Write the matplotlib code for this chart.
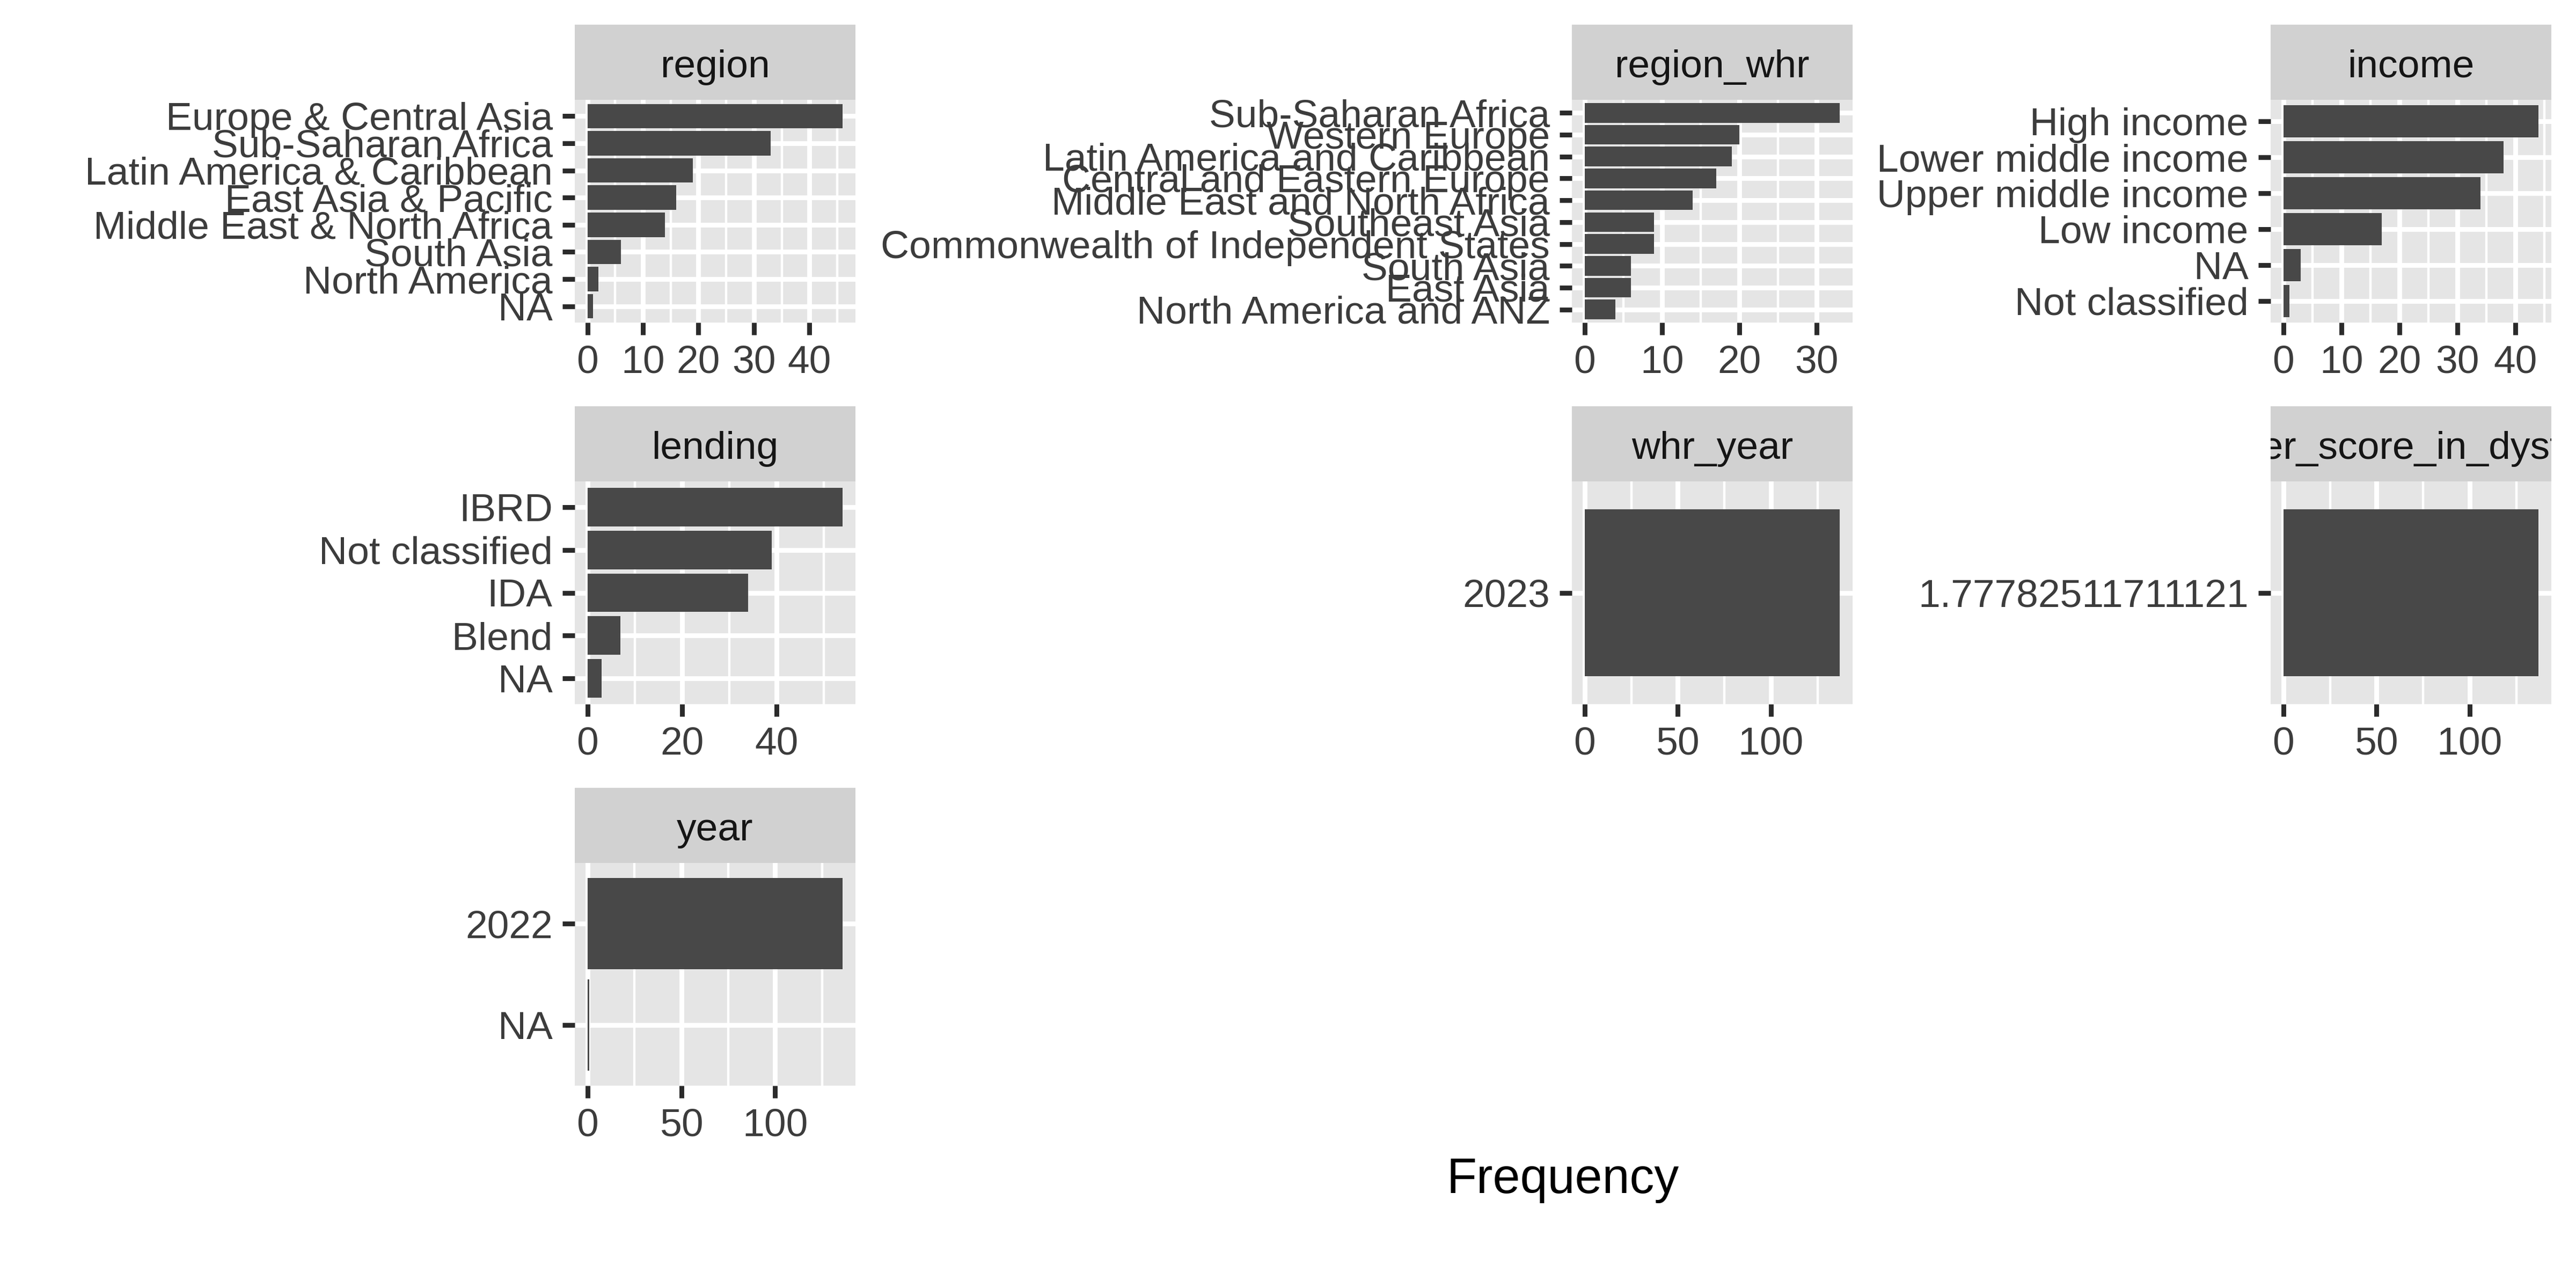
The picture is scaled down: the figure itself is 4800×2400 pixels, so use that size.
import matplotlib
matplotlib.use("Agg")
import matplotlib.pyplot as plt
from matplotlib.ticker import MultipleLocator

plt.rcParams["font.family"] = ["Liberation Sans", "DejaVu Sans"]

# counts per category, already in the order ggplot drew them (most frequent first)
region_labels = ["Europe & Central Asia", "Sub-Saharan Africa", "Latin America & Caribbean",
                 "East Asia & Pacific", "Middle East & North Africa", "South Asia",
                 "North America", "NA"]
region_counts = [46, 33, 19, 16, 14, 6, 2, 1]

region_whr_labels = ["Sub-Saharan Africa", "Western Europe", "Latin America and Caribbean",
                     "Central and Eastern Europe", "Middle East and North Africa",
                     "Southeast Asia", "Commonwealth of Independent States", "South Asia",
                     "East Asia", "North America and ANZ"]
region_whr_counts = [33, 20, 19, 17, 14, 9, 9, 6, 6, 4]

income_labels = ["High income", "Lower middle income", "Upper middle income",
                 "Low income", "NA", "Not classified"]
income_counts = [44, 38, 34, 17, 3, 1]

lending_labels = ["IBRD", "Not classified", "IDA", "Blend", "NA"]
lending_counts = [54, 39, 34, 7, 3]

whr_year_labels = ["2023"]
whr_year_counts = [137]

ladder_labels = ["1.77782511711121"]
ladder_counts = [137]

year_labels = ["2022", "NA"]
year_counts = [136, 1]

facets = [
    ("region", region_labels, region_counts, 10),
    ("region_whr", region_whr_labels, region_whr_counts, 10),
    ("income", income_labels, income_counts, 10),
    ("lending", lending_labels, lending_counts, 20),
    ("whr_year", whr_year_labels, whr_year_counts, 50),
    ("ladder_score_in_dystopia", ladder_labels, ladder_counts, 50),
    ("year", year_labels, year_counts, 50),
]

W, H = 4800, 2400
fig = plt.figure(figsize=(8, 4), dpi=600)
fig.patch.set_facecolor("white")

col_left = [1071, 2929, 4231]
panel_w = 523
strip_top = [46, 757, 1468]
strip_h = 140
panel_h = 415


def box(left, top, width, height):
    return [left / W, 1 - (top + height) / H, width / W, height / H]


for i, (name, labels, counts, step) in enumerate(facets):
    r, c = divmod(i, 3)
    left = col_left[c]
    top = strip_top[r]

    ax = fig.add_axes(box(left, top + strip_h, panel_w, panel_h))
    ax.set_facecolor("#E5E5E5")
    n = len(labels)
    ypos = [n - k for k in range(n)]
    ax.barh(ypos, counts, height=0.9, color="#484848", zorder=2)
    mx = max(counts)
    ax.set_xlim(-0.05 * mx, 1.05 * mx)
    ax.set_ylim(0.4, n + 0.6)
    ax.xaxis.set_major_locator(MultipleLocator(step))
    ax.xaxis.set_minor_locator(MultipleLocator(step / 2))
    ax.set_yticks(ypos)
    ax.set_yticklabels(labels)
    ax.set_axisbelow(True)
    ax.grid(which="major", color="white", linewidth=1.07)
    ax.grid(which="minor", axis="x", color="white", linewidth=0.53)
    for s in ax.spines.values():
        s.set_visible(False)
    ax.tick_params(which="major", length=2.75, width=1.07, color="#2B2B2B",
                   labelsize=8.8, labelcolor="#3C3C3C", pad=2.2)
    ax.tick_params(which="minor", length=0)

    sx = fig.add_axes(box(left, top, panel_w, strip_h))
    sx.set_facecolor("#D1D1D1")
    sx.set_xticks([])
    sx.set_yticks([])
    for s in sx.spines.values():
        s.set_visible(False)
    sx.text(0.5, 0.3, name, transform=sx.transAxes, ha="center", va="baseline",
            fontsize=8.8, color="#151515", clip_on=True)

fig.text(2912 / W, 1 - 2223 / H, "Frequency", ha="center", va="baseline",
         fontsize=11, color="black")

fig.savefig("out.png", dpi=600)
